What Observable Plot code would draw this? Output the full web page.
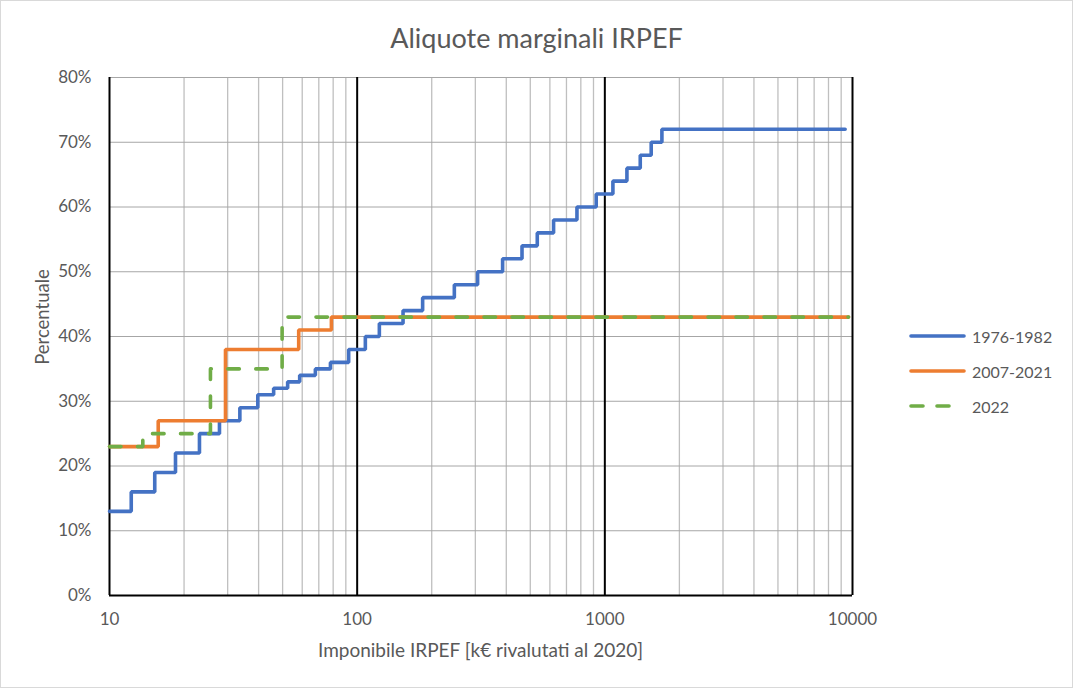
<!DOCTYPE html>
<html>
<head>
<meta charset="utf-8">
<script src="https://cdn.jsdelivr.net/npm/d3@7"></script>
<script src="https://cdn.jsdelivr.net/npm/@observablehq/plot@0.6"></script>
<style>
  body { margin: 0; background: #fff; }
  #wrap { position: relative; width: 1073px; height: 688px; overflow: hidden; background: #fff; font-family: Lato, "Open Sans", sans-serif; color: #595959; }
  #border { position: absolute; left: 0; top: 0; width: 1071px; height: 686px; border: 1px solid #d9d9d9; pointer-events: none; }
  #title { position: absolute; left: 0; width: 1073px; top: 20px; line-height: 36px; text-align: center; font-size: 27px; }
  #xlabel { position: absolute; left: 109px; width: 743px; top: 638px; line-height: 24px; text-align: center; font-size: 19px; }
  #ylabel { position: absolute; left: 42px; top: 317px; font-size: 18.5px; transform: translate(-50%, -50%) rotate(-90deg); white-space: nowrap; }
  .leg { position: absolute; left: 908px; height: 20px; display: flex; align-items: center; font-size: 16px; }
  .leg svg { margin-right: 4px; }
  #chart { position: absolute; left: 0; top: 0; }
</style>
</head>
<body>
<div id="wrap">
  <div id="chart"></div>
  <div id="title">Aliquote marginali IRPEF</div>
  <div id="xlabel">Imponibile IRPEF [k€ rivalutati al 2020]</div>
  <div id="ylabel">Percentuale</div>
  <div id="legend"></div>
  <div id="border"></div>
</div>
<script>
// ---- Data ----
const seriesNames = ["1976-1982", "2007-2021", "2022"];
const seriesColors = ["#4472C4", "#ED7D31", "#70AD47"];

// 1976-1982: bracket starts (k€) and marginal rate (%) applying from each start
const starts1976 = [10, 12.24, 15.23, 18.47, 23.08, 27.8, 33.6, 39.7, 46.0, 52.4, 58.6, 67.8, 78.0, 92.4,
  107.9, 122.9, 153.2, 183.8, 246.8, 306.4, 386.6, 463, 533.6, 620.9, 771.7, 923, 1078, 1228, 1390, 1539, 1700];
const rates1976 = [13, 16, 19, 22, 25, 27, 29, 31, 32, 33, 34, 35, 36, 38,
  40, 42, 44, 46, 48, 50, 52, 54, 56, 58, 60, 62, 64, 66, 68, 70, 72];
const end1976 = 9340;

// 2007-2021
const starts2007 = [10, 15.73, 29.4, 58.07, 78.7];
const rates2007 = [23, 27, 38, 41, 43];
const end2007 = 9640;

// 2022
const starts2022 = [10, 13.63, 25.56, 49.77];
const rates2022 = [23, 25, 35, 43];
const end2022 = 9640;

// Axis ticks
const xTickValues = [10, 100, 1000, 10000];
const yTickValues = [0, 10, 20, 30, 40, 50, 60, 70, 80];

// ---- Build tables ----
function steps(starts, rates, end, name) {
  const rows = starts.map((x, i) => ({x, y: rates[i] / 100, s: name}));
  rows.push({x: end, y: rates[rates.length - 1] / 100, s: name});
  return rows;
}
const d1976 = steps(starts1976, rates1976, end1976, seriesNames[0]);
const d2007 = steps(starts2007, rates2007, end2007, seriesNames[1]);
const d2022 = steps(starts2022, rates2022, end2022, seriesNames[2]);

const minorX = [];
for (const dec of [10, 100, 1000]) for (let k = 2; k <= 9; k++) minorX.push(dec * k);
const yGrid = yTickValues.map(v => v / 100);

const chart = Plot.plot({
  width: 1073,
  height: 688,
  marginLeft: 109,
  marginRight: 221,
  marginTop: 77,
  marginBottom: 93,
  style: {fontFamily: "Lato, 'Open Sans', sans-serif", fontSize: "17px", color: "#595959", background: "transparent"},
  x: {type: "log", domain: [10, 10000], ticks: xTickValues, tickFormat: d => String(d), tickSize: 0, tickPadding: 17, label: null},
  y: {domain: [0, 0.8], ticks: yGrid, tickFormat: d => Math.round(d * 100) + "%", tickSize: 0, tickPadding: 18, label: null},
  marks: [
    Plot.ruleX(minorX, {stroke: "#bfbfbf", strokeWidth: 1.3}),
    Plot.ruleY(yGrid, {stroke: "#a6a6a6", strokeWidth: 1}),
    Plot.ruleX(xTickValues, {stroke: "#000", strokeWidth: 2}),
    Plot.ruleY([0], {stroke: "#000", strokeWidth: 2}),
    Plot.line(d1976, {x: "x", y: "y", stroke: seriesColors[0], strokeWidth: 3.6, curve: "step-after", strokeLinecap: "round", strokeLinejoin: "miter"}),
    Plot.line(d2007, {x: "x", y: "y", stroke: seriesColors[1], strokeWidth: 3.6, curve: "step-after", strokeLinecap: "round", strokeLinejoin: "miter"}),
    Plot.line(d2022, {x: "x", y: "y", stroke: seriesColors[2], strokeWidth: 3.6, curve: "step-after", strokeLinecap: "round", strokeLinejoin: "round", strokeDasharray: "11.5,16.5"})
  ]
});
document.getElementById("chart").appendChild(chart);

// ---- Legend ----
const legendTops = [326, 361, 396];
const legend = document.getElementById("legend");
seriesNames.forEach((name, i) => {
  const div = document.createElement("div");
  div.className = "leg";
  div.style.top = legendTops[i] + "px";
  const dash = i === 2 ? ' stroke-dasharray="12,14"' : '';
  const x2 = i === 2 ? 42 : 56;
  div.innerHTML = `<svg width="60" height="10"><line x1="3" y1="5" x2="${x2}" y2="5" stroke="${seriesColors[i]}" stroke-width="3.6" stroke-linecap="round"${dash}/></svg><span>${name}</span>`;
  legend.appendChild(div);
});
</script>
</body>
</html>
